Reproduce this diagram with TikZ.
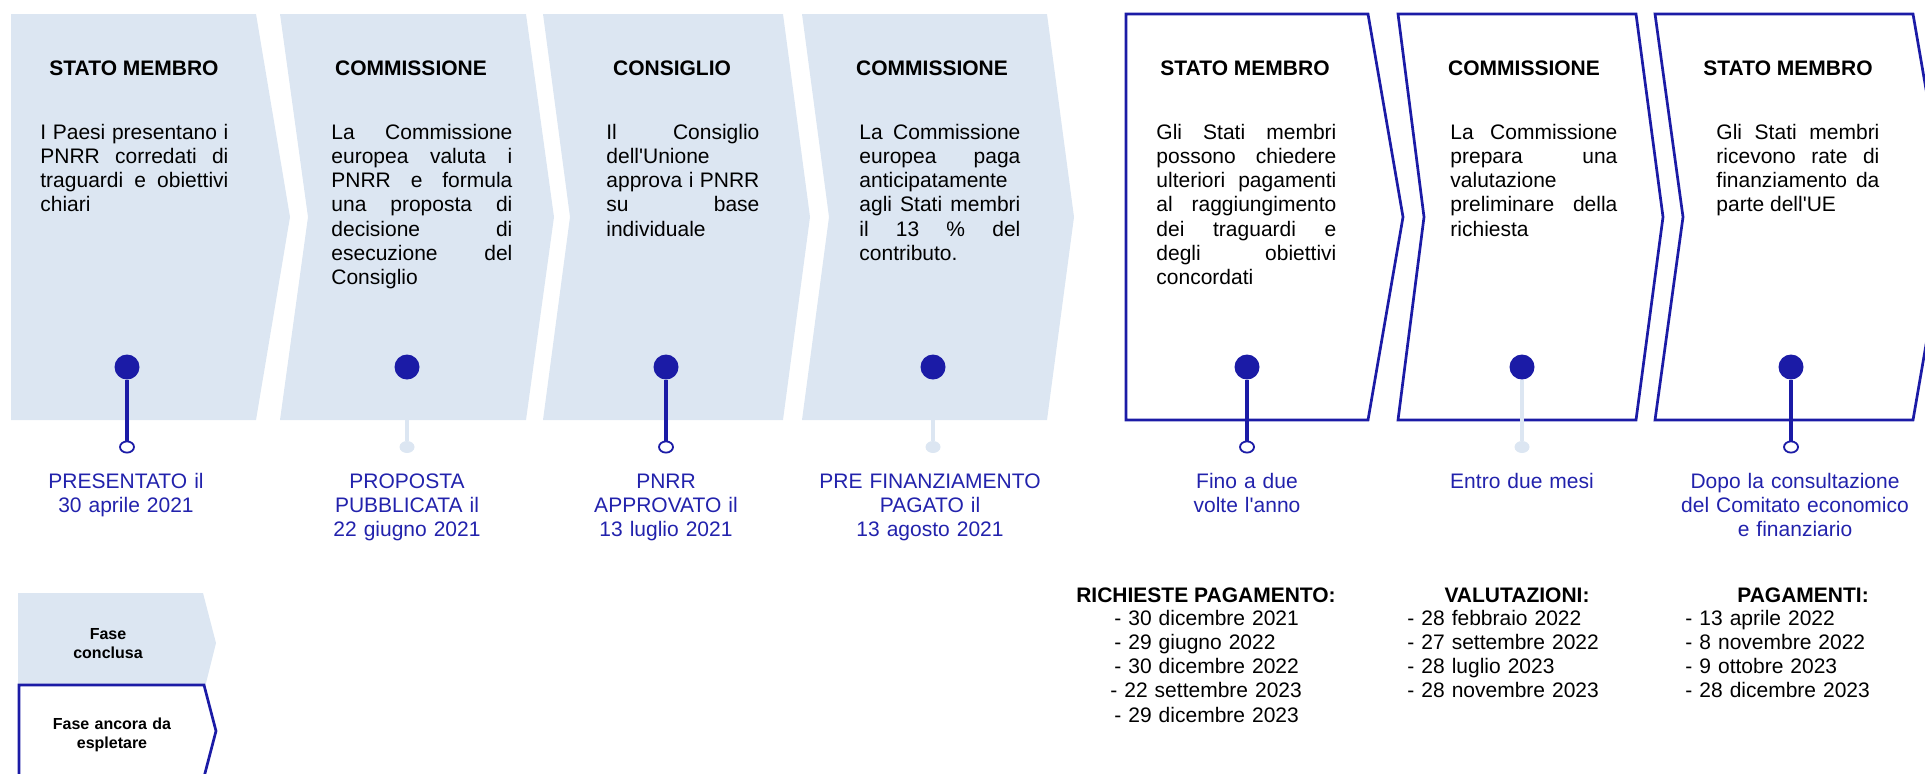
\documentclass[tikz,border=0pt]{standalone}
\usepackage{fontspec}
\setmainfont{Liberation Sans}
\usetikzlibrary{shapes.geometric}
\definecolor{fasefill}{RGB}{220,230,242}
\definecolor{pinblue}{RGB}{27,27,166}
\definecolor{labblue}{RGB}{34,34,172}
\hyphenpenalty=10000
\exhyphenpenalty=10000
\tolerance=9999
\hbadness=10000

\begin{document}
\begin{tikzpicture}[x=0.5pt,y=-0.5pt,
	done/.style={fill=fasefill},
	todo/.style={draw=pinblue,line width=1.35pt,fill=white},
	head/.style={anchor=base,inner sep=0pt,font=\fontsize{10.5}{12.15}\selectfont\bfseries},
	body/.style={anchor=base west,inner sep=0pt,align=justify,font=\fontsize{10.5}{12.15}\selectfont},
	lab/.style={anchor=base,inner sep=0pt,text width=116pt,align=center,text=labblue,font=\fontsize{10.5}{12.15}\selectfont},
	list/.style={anchor=base west,inner sep=0pt,text width=100pt,align=left,font=\fontsize{10.5}{12.15}\selectfont},
	legtext/.style={anchor=base,inner sep=0pt,text width=80pt,align=center,font=\fontsize{8}{9.5}\selectfont\bfseries},
	dot/.style={circle,fill=pinblue,minimum size=12.5pt,inner sep=0pt},
	ring/.style={ellipse,draw=pinblue,fill=white,line width=0.9pt,minimum width=7pt,minimum height=5.6pt,inner sep=0pt},
	ringoff/.style={ellipse,fill=fasefill,minimum width=7.5pt,minimum height=6pt,inner sep=0pt},
	stem/.style={draw=pinblue,line width=2.3pt},
	stemoff/.style={draw=fasefill,line width=2.3pt}]
	\useasboundingbox (0,0) rectangle (1925,773);
	\clip (0,0) rectangle (1925,773);

	\fill[done] (11,14) -- (256,14) -- (290,217) -- (256,420) -- (11,420) -- cycle;
	\fill[done] (280,14) -- (526,14) -- (554,217) -- (526,420) -- (280,420) -- (308,217) -- cycle;
	\fill[done] (543,14) -- (783,14) -- (810,217) -- (783,420) -- (543,420) -- (570,217) -- cycle;
	\fill[done] (802,14) -- (1047,14) -- (1074,217) -- (1047,420) -- (802,420) -- (829,217) -- cycle;
	\draw[todo] (1126,14) -- (1368,14) -- (1403,217) -- (1368,420) -- (1126,420) -- cycle;
	\draw[todo] (1398,14) -- (1636,14) -- (1663,217) -- (1636,420) -- (1398,420) -- (1424,217) -- cycle;
	\draw[todo] (1655,14) -- (1913,14) -- (1948,217) -- (1913,420) -- (1655,420) -- (1683,217) -- cycle;

	\node[head] (hd1) at (134,75) {STATO MEMBRO};
	\node[head] (hd2) at (411,75) {COMMISSIONE};
	\node[head] (hd3) at (672,75) {CONSIGLIO};
	\node[head] (hd4) at (932,75) {COMMISSIONE};
	\node[head] (hd5) at (1245,75) {STATO MEMBRO};
	\node[head] (hd6) at (1524,75) {COMMISSIONE};
	\node[head] (hd7) at (1788,75) {STATO MEMBRO};

	\node[body,text width=94pt] (txt1) at (40,139) {I Paesi presentano i\linebreak PNRR corredati di\linebreak traguardi e obiettivi\linebreak chiari};
	\node[body,text width=90.5pt] (txt2) at (331,139) {La Commissione\linebreak europea valuta i\linebreak PNRR e formula\linebreak una proposta di\linebreak decisione di\linebreak esecuzione del\linebreak Consiglio};
	\node[body,text width=76.5pt] (txt3) at (606,139) {Il Consiglio\linebreak dell\textquotesingle Unione\linebreak approva i PNRR\linebreak su base\linebreak individuale};
	\node[body,text width=80.5pt] (txt4) at (859,139) {La Commissione\linebreak europea paga\linebreak anticipatamente\linebreak agli Stati membri\linebreak il 13 \% del\linebreak contributo.};
	\node[body,text width=90pt] (txt5) at (1156,139) {Gli Stati membri\linebreak possono chiedere\linebreak ulteriori pagamenti\linebreak al raggiungimento\linebreak dei traguardi e\linebreak degli obiettivi\linebreak concordati};
	\node[body,text width=83.5pt] (txt6) at (1450,139) {La Commissione\linebreak prepara una\linebreak valutazione\linebreak preliminare della\linebreak richiesta};
	\node[body,text width=81.5pt] (txt7) at (1716,139) {Gli Stati membri\linebreak ricevono rate di\linebreak finanziamento da\linebreak parte dell\textquotesingle UE};

	\node[dot] (dot1) at (127,367) {};
	\node[dot] (dot2) at (407,367) {};
	\node[dot] (dot3) at (666,367) {};
	\node[dot] (dot4) at (933,367) {};
	\node[dot] (dot5) at (1247,367) {};
	\node[dot] (dot6) at (1522,367) {};
	\node[dot] (dot7) at (1791,367) {};
	\node[ring] (ring1) at (127,447) {};
	\node[ringoff] (ring2) at (407,447) {};
	\node[ring] (ring3) at (666,447) {};
	\node[ringoff] (ring4) at (933,447) {};
	\node[ring] (ring5) at (1247,447) {};
	\node[ringoff] (ring6) at (1522,447) {};
	\node[ring] (ring7) at (1791,447) {};
	\draw[stem] (dot1) -- (ring1);
	\draw[stemoff] (dot2) -- (ring2);
	\draw[stem] (dot3) -- (ring3);
	\draw[stemoff] (dot4) -- (ring4);
	\draw[stem] (dot5) -- (ring5);
	\draw[stemoff] (dot6) -- (ring6);
	\draw[stem] (dot7) -- (ring7);

	\node[lab] (lab1) at (126,488) {PRESENTATO il\\30 aprile 2021};
	\node[lab] (lab2) at (407,488) {PROPOSTA\\PUBBLICATA il\\22 giugno 2021};
	\node[lab] (lab3) at (666,488) {PNRR\\APPROVATO il\\13 luglio 2021};
	\node[lab] (lab4) at (930,488) {PRE FINANZIAMENTO\\PAGATO il\\13 agosto 2021};
	\node[lab] (lab5) at (1247,488) {Fino a due\\volte l\textquotesingle anno};
	\node[lab] (lab6) at (1522,488) {Entro due mesi};
	\node[lab] (lab7) at (1795,488) {Dopo la consultazione\\del Comitato economico\\e finanziario};

	\node[head] (req) at (1206,602) {RICHIESTE PAGAMENTO:};
	\node[head] (val) at (1517,602) {VALUTAZIONI:};
	\node[head] (pag) at (1803,602) {PAGAMENTI:};
	\node[list] (reqlist) at (1114,625) {- 30 dicembre 2021\\- 29 giugno 2022\\- 30 dicembre 2022\\\hspace*{-2pt}- 22 settembre 2023\\- 29 dicembre 2023};
	\node[list] (vallist) at (1407,625) {- 28 febbraio 2022\\- 27 settembre 2022\\- 28 luglio 2023\\- 28 novembre 2023};
	\node[list] (paglist) at (1685,625) {- 13 aprile 2022\\- 8 novembre 2022\\- 9 ottobre 2023\\- 28 dicembre 2023};

	\fill[done] (18,593) -- (203,593) -- (216,643) -- (203,695) -- (18,695) -- cycle;
	\draw[todo] (19,685) -- (204,685) -- (216,731) -- (204,777) -- (19,777) -- cycle;
	\node[legtext] (leg1) at (108,639) {Fase\\conclusa};
	\node[legtext] (leg2) at (112,729) {Fase ancora da\\espletare};
\end{tikzpicture}
\end{document}
